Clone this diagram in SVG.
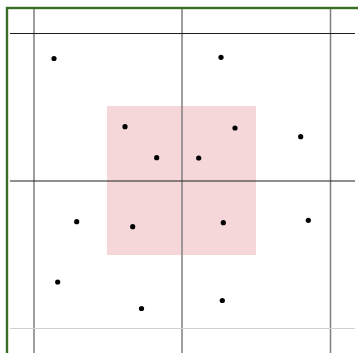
<svg xmlns="http://www.w3.org/2000/svg" width="358" height="353" viewBox="0 0 358 353">
<style>
.v{stroke:#7f7f7f;stroke-width:1.5}
.h{stroke:#1e1e1e;stroke-width:1.2}
.hl{stroke:#cfcfcf;stroke-width:1.2}
.pt{fill:#000}
</style>
<rect x="0" y="0" width="358" height="353" fill="#fff"/>
<rect id="region" x="107" y="106" width="149" height="149" fill="#f5d6d9"/>
<g id="grid">
<line class="v" x1="34" y1="9" x2="34" y2="353"/>
<line class="v" x1="182" y1="9" x2="182" y2="353"/>
<line class="v" x1="330.5" y1="9" x2="330.5" y2="353"/>
<line class="h" x1="10" y1="33.5" x2="355" y2="33.5"/>
<line class="h" x1="10" y1="181" x2="355" y2="181"/>
<line class="hl" x1="10" y1="328.5" x2="355" y2="328.5"/>
</g>
<rect id="border" x="7" y="8" width="400" height="400" fill="none" stroke="#3a6e26" stroke-width="2.4"/>
<g id="points">
<circle class="pt" cx="54" cy="58.5" r="2.6"/>
<circle class="pt" cx="221" cy="57.3" r="2.6"/>
<circle class="pt" cx="125" cy="126.7" r="2.6"/>
<circle class="pt" cx="235" cy="128" r="2.6"/>
<circle class="pt" cx="156.7" cy="157.7" r="2.6"/>
<circle class="pt" cx="198.7" cy="158" r="2.6"/>
<circle class="pt" cx="300.7" cy="136.7" r="2.6"/>
<circle class="pt" cx="76.7" cy="221.7" r="2.6"/>
<circle class="pt" cx="132.7" cy="226.7" r="2.6"/>
<circle class="pt" cx="223.3" cy="222.7" r="2.6"/>
<circle class="pt" cx="308.3" cy="220.3" r="2.6"/>
<circle class="pt" cx="57.7" cy="282" r="2.6"/>
<circle class="pt" cx="141.5" cy="308.5" r="2.6"/>
<circle class="pt" cx="222.3" cy="300.5" r="2.6"/>
</g>
</svg>
